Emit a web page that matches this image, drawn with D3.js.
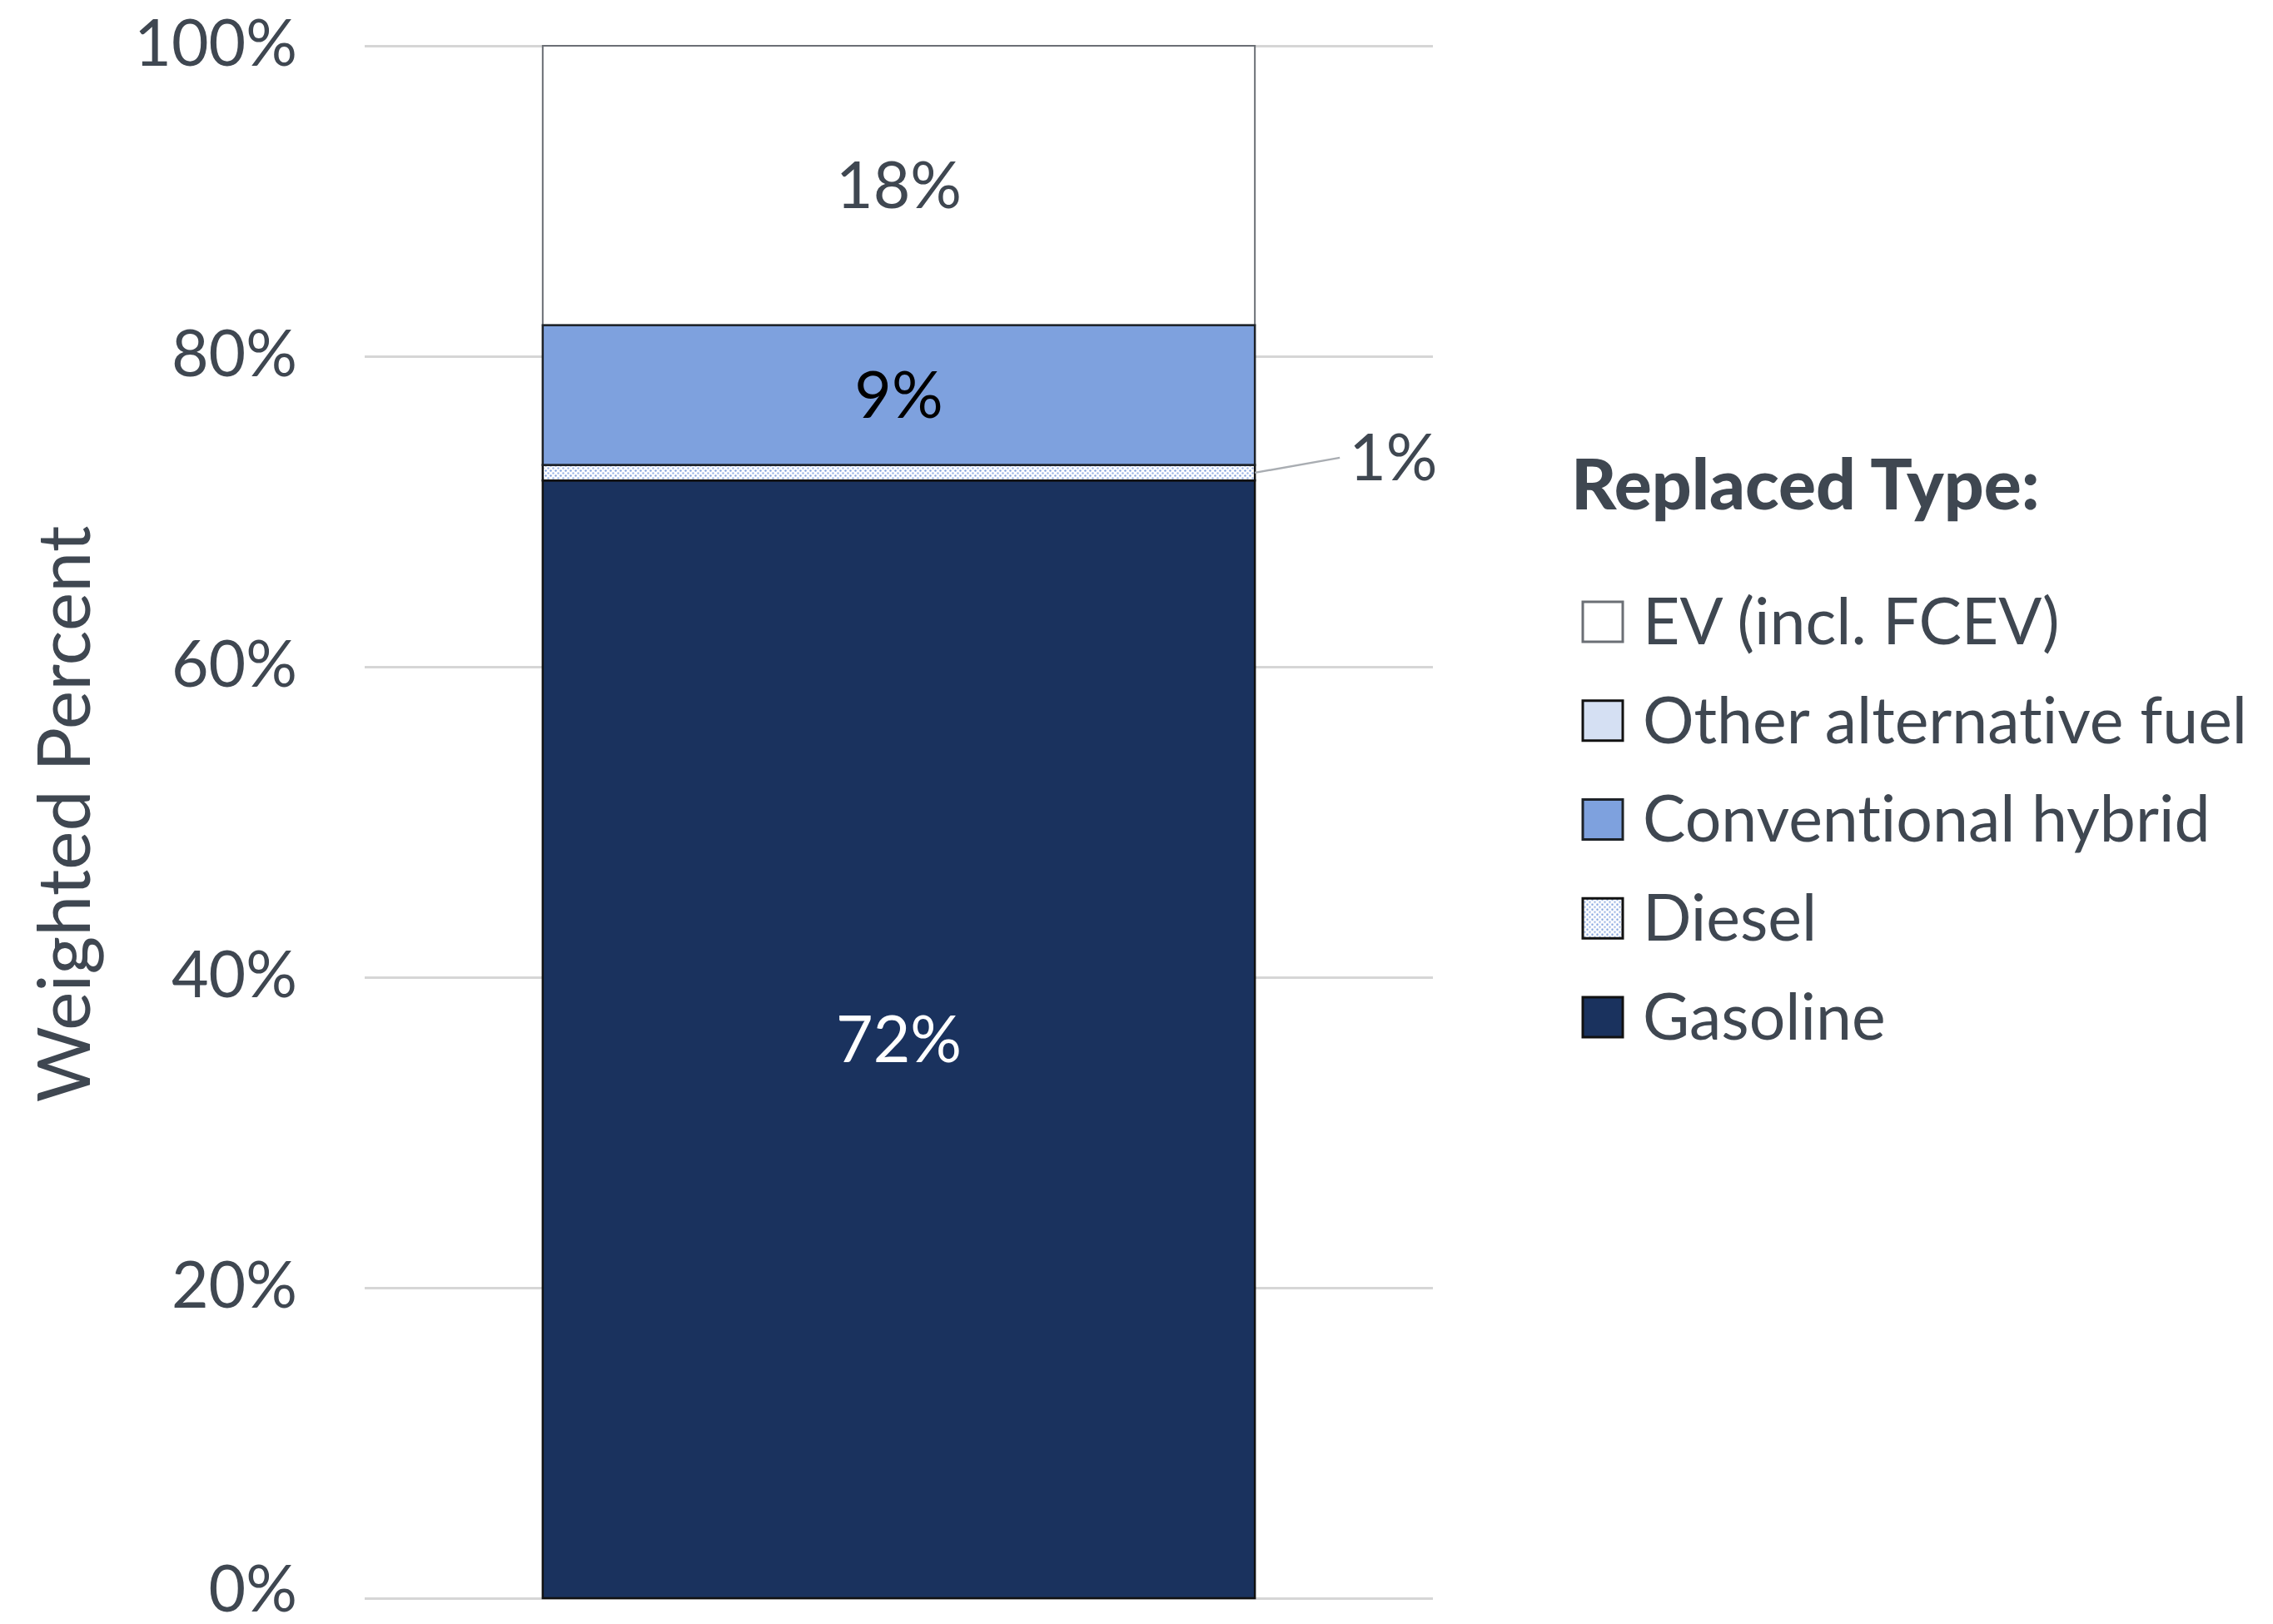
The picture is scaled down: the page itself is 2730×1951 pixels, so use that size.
<!DOCTYPE html>
<html>
<head>
<meta charset="utf-8">
<script src="https://cdn.jsdelivr.net/npm/d3@7"></script>
<style>
  html, body { margin: 0; padding: 0; background: #ffffff; }
  svg { display: block; }
  text { font-family: Lato, "Open Sans", sans-serif; font-variant-ligatures: none; font-feature-settings: "liga" 0, "clig" 0; }
</style>
</head>
<body>
<svg id="chart" width="2730" height="1951"></svg>
<script>
// Stacked share of replaced vehicle types (weighted percent)
const categories = ["All replaced vehicles"];
const seriesKeys = ["Gasoline", "Diesel", "Conventional hybrid", "Other alternative fuel", "EV (incl. FCEV)"];
const gasoline = [72];
const diesel = [1];
const hybrid = [9];
const otherAltFuel = [0];
const ev = [18];
const tickValues = [0, 20, 40, 60, 80, 100];
const tickLabels = ["0%", "20%", "40%", "60%", "80%", "100%"];
const legendOrder = ["EV (incl. FCEV)", "Other alternative fuel", "Conventional hybrid", "Diesel", "Gasoline"];
const legendTitle = "Replaced Type:";
const yTitle = "Weighted Percent";

const rows = categories.map((c, i) => ({
  category: c,
  "Gasoline": gasoline[i],
  "Diesel": diesel[i],
  "Conventional hybrid": hybrid[i],
  "Other alternative fuel": otherAltFuel[i],
  "EV (incl. FCEV)": ev[i]
}));

const textColor = "#3f4751";
const fills = {
  "Gasoline": "#1a325e",
  "Diesel": "url(#dieselDots)",
  "Conventional hybrid": "#7ea1de",
  "Other alternative fuel": "#d5e0f3",
  "EV (incl. FCEV)": "#ffffff"
};
const strokes = {
  "Gasoline": "#111111",
  "Diesel": "#111111",
  "Conventional hybrid": "#1d2228",
  "Other alternative fuel": "#111111",
  "EV (incl. FCEV)": "#6b6f75"
};
const labelColors = {
  "Gasoline": "#ffffff",
  "Conventional hybrid": "#000000",
  "EV (incl. FCEV)": textColor
};

const svg = d3.select("#chart");

// Dotted fill used for the diesel segment
const defs = svg.append("defs");
const pat = defs.append("pattern")
  .attr("id", "dieselDots")
  .attr("patternUnits", "userSpaceOnUse")
  .attr("width", 6).attr("height", 6);
pat.append("rect").attr("width", 6).attr("height", 6).attr("fill", "#ffffff");
pat.append("circle").attr("cx", 1.5).attr("cy", 1.5).attr("r", 1.2).attr("fill", "#7f9fdc");
pat.append("circle").attr("cx", 4.5).attr("cy", 4.5).attr("r", 1.2).attr("fill", "#9db6e6");

const plot = { left: 438, right: 1721, top: 55, bottom: 1920 };

const x = d3.scaleBand()
  .domain(categories)
  .range([plot.left, plot.right])
  .paddingInner(0.2)
  .paddingOuter(0.2);

const y = d3.scaleLinear()
  .domain([0, 100])
  .range([plot.bottom, plot.top]);

// Gridlines and tick labels
const yAxis = d3.axisLeft(y)
  .tickValues(tickValues)
  .tickFormat((d, i) => tickLabels[i])
  .tickSize(-(plot.right - plot.left))
  .tickPadding(81);

const gAxis = svg.append("g")
  .attr("transform", `translate(${plot.left},0)`)
  .call(yAxis);
gAxis.select(".domain").remove();
gAxis.selectAll(".tick line")
  .attr("stroke", "#d6d6d6")
  .attr("stroke-width", 3);
gAxis.selectAll(".tick text")
  .attr("fill", textColor)
  .attr("font-size", 77)
  // the baseline label sits at the bottom edge, so lift it a little
  .attr("dy", d => d === 0 ? "0.2em" : "0.3em");

// Y axis title
svg.append("text")
  .attr("transform", `translate(108, 978) rotate(-90)`)
  .attr("text-anchor", "middle")
  .attr("fill", textColor)
  .attr("font-size", 88)
  .text(yTitle);

// Stacked bar
const stack = d3.stack().keys(seriesKeys);
const layers = stack(rows);

const drawOrder = ["EV (incl. FCEV)", "Other alternative fuel", "Gasoline", "Diesel", "Conventional hybrid"];
const layerByKey = new Map(layers.map(l => [l.key, l]));

const gBars = svg.append("g");
drawOrder.forEach(key => {
  const layer = layerByKey.get(key);
  gBars.selectAll(null)
    .data(layer.filter(d => d[1] - d[0] > 0))
    .join("rect")
    .attr("x", d => x(d.data.category))
    .attr("width", x.bandwidth())
    .attr("y", d => y(d[1]))
    .attr("height", d => y(d[0]) - y(d[1]))
    .attr("fill", fills[key])
    .attr("stroke", strokes[key])
    .attr("stroke-width", key === "EV (incl. FCEV)" ? 2 : 2.5);
});

// Value labels inside segments
const gLabels = svg.append("g");
layers.forEach(layer => {
  if (!(layer.key in labelColors)) return;
  layer.forEach(d => {
    const v = d[1] - d[0];
    if (v <= 0) return;
    gLabels.append("text")
      .attr("x", x(d.data.category) + x.bandwidth() / 2)
      .attr("y", y((d[0] + d[1]) / 2))
      .attr("dy", "0.35em")
      .attr("text-anchor", "middle")
      .attr("fill", labelColors[layer.key])
      .attr("font-size", 77)
      .text(d3.format("d")(v) + "%");
  });
});

// Callout for the thin diesel segment
layerByKey.get("Diesel").forEach(d => {
  const v = d[1] - d[0];
  const x0 = x(d.data.category) + x.bandwidth();
  const yMid = y((d[0] + d[1]) / 2);
  svg.append("line")
    .attr("x1", x0).attr("y1", yMid)
    .attr("x2", x0 + 102).attr("y2", yMid - 18)
    .attr("stroke", "#a9adb2")
    .attr("stroke-width", 2.5);
  svg.append("text")
    .attr("x", x0 + 113)
    .attr("y", yMid - 18)
    .attr("dy", "0.35em")
    .attr("fill", textColor)
    .attr("font-size", 77)
    .text(d3.format("d")(v) + "%");
});

// Legend
const legend = svg.append("g").attr("transform", "translate(1887,0)");
legend.append("text")
  .attr("x", 0)
  .attr("y", 612)
  .attr("fill", textColor)
  .attr("font-size", 84)
  .attr("font-weight", 900)
  .text(legendTitle);

const rowY = d3.scalePoint().domain(legendOrder).range([747, 1222]);
const items = legend.selectAll("g.item")
  .data(legendOrder)
  .join("g")
  .attr("class", "item")
  .attr("transform", d => `translate(0,${rowY(d)})`);
items.append("rect")
  .attr("x", 14).attr("y", -24)
  .attr("width", 48).attr("height", 48)
  .attr("fill", d => fills[d])
  .attr("stroke", d => strokes[d])
  .attr("stroke-width", 3);
items.append("text")
  .attr("x", 86)
  .attr("y", 0)
  .attr("dy", "0.35em")
  .attr("fill", textColor)
  .attr("font-size", 77)
  .text(d => d);
</script>
</body>
</html>
